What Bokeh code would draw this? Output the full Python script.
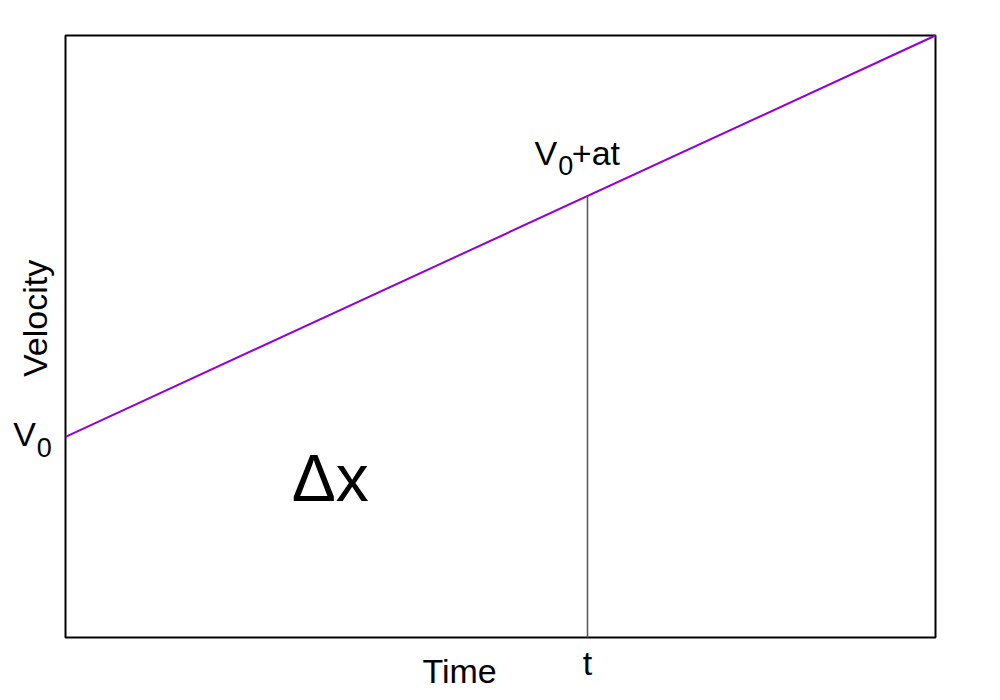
import math
from bokeh.plotting import figure
from bokeh.models import Range1d, Label
from bokeh.embed import file_html
from bokeh.resources import INLINE

# Data
time = [0, 10]
velocity = [1, 3]
v_limits = [0, 3]
t_mark = 6
v0 = velocity[0]
accel = (velocity[1] - velocity[0]) / (time[1] - time[0])
v_at_t = v0 + accel * t_mark

FONT = "Liberation Sans"

# Layout: canvas is the whole frame; the visible box is drawn as a glyph
W, H = 992, 692
BOX_L, BOX_R, BOX_T, BOX_B = 65, 935, 35, 637
sx = (BOX_R - BOX_L) / (time[1] - time[0])
sy = (BOX_B - BOX_T) / (v_limits[1] - v_limits[0])
x_range = Range1d(time[0] - BOX_L / sx, time[1] + (W - BOX_R) / sx)
y_range = Range1d(v_limits[0] - (H - BOX_B) / sy, v_limits[1] + BOX_T / sy)

p = figure(width=W, height=H, min_border=0,
           x_range=x_range, y_range=y_range,
           output_backend="svg", toolbar_location=None)
p.xaxis.visible = False
p.yaxis.visible = False
p.grid.visible = False
p.outline_line_color = None
p.background_fill_color = "white"
p.border_fill_color = "white"

# frame box
p.quad(left=[time[0]], right=[time[1]], bottom=[v_limits[0]], top=[v_limits[1]],
       fill_color=None, line_color="black", line_width=2)

p.line(time, velocity, line_color="#9400D3", line_width=2)
p.segment(x0=[t_mark], y0=[v_limits[0]], x1=[t_mark], y1=[v_at_t],
          line_color="#555555", line_width=1.5)

def lab(x, y, text, size, align="left", baseline="alphabetic", angle=0):
    if baseline == "alphabetic":
        y = y + 0.37 * size / sy
    p.add_layout(Label(x=x, y=y, text=text, text_font=FONT, text_font_size=f"{size}px",
                       text_align=align, text_baseline=baseline, angle=angle,
                       text_color="black"))

# V0 on left
lab(-0.60, 0.952, "V", 34)
lab(-0.33, 0.897, "0", 27)
# V0+at
lab(5.39, 2.352, "V", 34)
lab(5.665, 2.302, "0", 27)
lab(5.82, 2.352, "+at", 34)
# t
lab(t_mark, -0.189, "t", 34, align="center")
# Time
lab(4.53, -0.232, "Time", 34, align="center")
# Velocity
lab(-0.356, 1.59, "Velocity", 34, align="center", baseline="middle", angle=math.pi / 2)
# Delta x
lab(2.60, 0.673, "Δx", 66)

open("out.html", "w").write(file_html(p, INLINE))
